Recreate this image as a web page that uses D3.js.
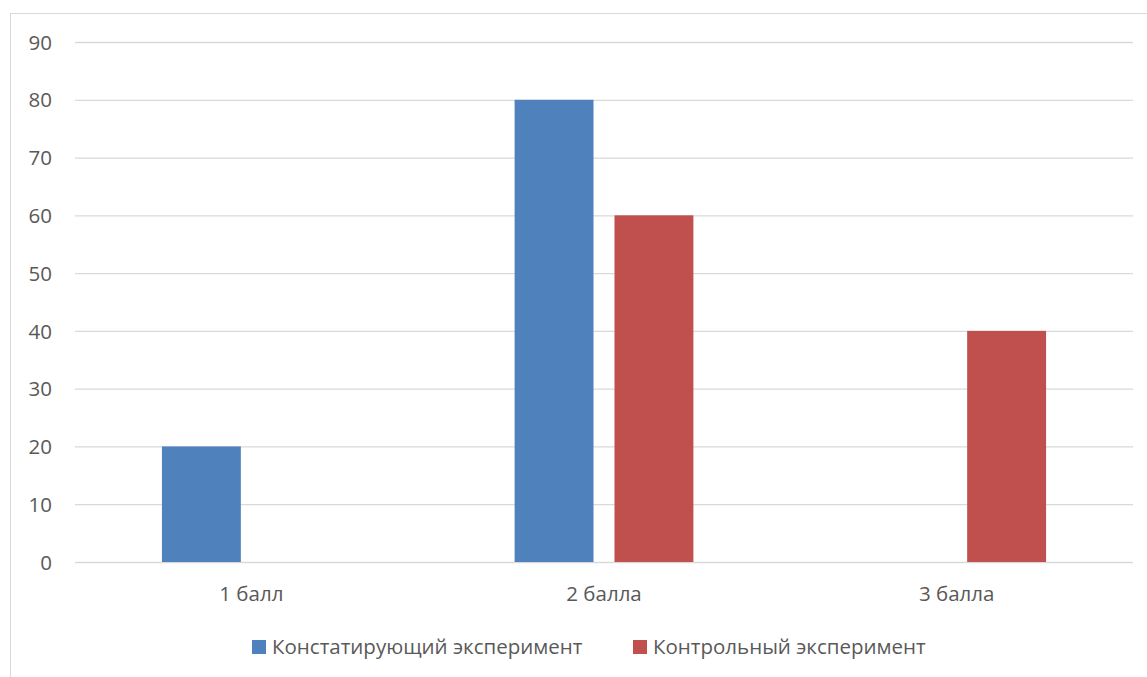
<!DOCTYPE html>
<html><head><meta charset="utf-8">
<script src="https://cdn.jsdelivr.net/npm/d3@7"></script>
<style>body{margin:0;background:#fff;} svg{display:block;} text{font-family:"Open Sans","Noto Sans",sans-serif;}</style>
</head><body>
<svg id="c" width="1147" height="677"></svg>
<script>
const categories = ["1 балл", "2 балла", "3 балла"];
const seriesNames = ["Констатирующий эксперимент", "Контрольный эксперимент"];
const constatValues = [20, 80, 0];
const controlValues = [0, 60, 40];
const yTicks = [0, 10, 20, 30, 40, 50, 60, 70, 80, 90];
const colors = ["#4f81bd", "#c0504d"];
const FS = "20.5px";

const svg = d3.select("#c");
// outer chart border (clipped at right/bottom as in reference)
svg.append("rect").attr("x", 10.5).attr("y", 13.5).attr("width", 1200).attr("height", 700)
  .attr("fill", "none").attr("stroke", "#d9d9d9").attr("stroke-width", 1);

const L = 75, R = 1133, T = 42, B = 562;
const y = d3.scaleLinear().domain([0, 90]).range([B, T]);
const x0 = d3.scaleBand().domain(categories).range([L, R]).padding(0);
const cw = x0.bandwidth();
const x1 = d3.scaleBand().domain(seriesNames).range([cw * 0.2465, cw * 0.7535]).paddingInner(0.21).paddingOuter(0);

// gridlines
const gy = d3.axisLeft(y).tickValues(yTicks).tickSize(-(R - L)).tickFormat("");
const gg = svg.append("g").attr("transform", `translate(${L},0)`).call(gy);
gg.select(".domain").remove();
gg.selectAll("line").attr("stroke", "#d9d9d9").attr("stroke-width", 1.3);

// y labels
const ya = d3.axisLeft(y).tickValues(yTicks).tickSize(0).tickPadding(0);
const yg = svg.append("g").attr("transform", `translate(52,0)`).call(ya);
yg.select(".domain").remove();
yg.selectAll("text").attr("fill", "#595959").style("font-size", FS).attr("dy", "0.35em");

// bars
const data = [constatValues, controlValues];
categories.forEach((c, i) => {
  seriesNames.forEach((s, j) => {
    const v = data[j][i];
    if (v > 0) {
      svg.append("rect")
        .attr("x", x0(c) + x1(s)).attr("width", x1.bandwidth())
        .attr("y", y(v)).attr("height", y(0) - y(v))
        .attr("fill", colors[j]);
    }
  });
});

// x labels
const xa = d3.axisBottom(x0).tickSize(0).tickPadding(0);
const xg = svg.append("g").attr("transform", `translate(0,${B + 32})`).call(xa);
xg.select(".domain").remove();
xg.selectAll("text").attr("fill", "#595959").style("font-size", FS).attr("dy", "0.35em");

// legend
const leg = [{x: 252, name: seriesNames[0], color: colors[0]}, {x: 633, name: seriesNames[1], color: colors[1]}];
leg.forEach(l => {
  svg.append("rect").attr("x", l.x).attr("y", 640).attr("width", 14).attr("height", 14).attr("fill", l.color);
  svg.append("text").attr("x", l.x + 20).attr("y", 647).attr("dy", "0.35em")
    .attr("fill", "#595959").style("font-size", FS).text(l.name);
});
</script>
</body></html>
